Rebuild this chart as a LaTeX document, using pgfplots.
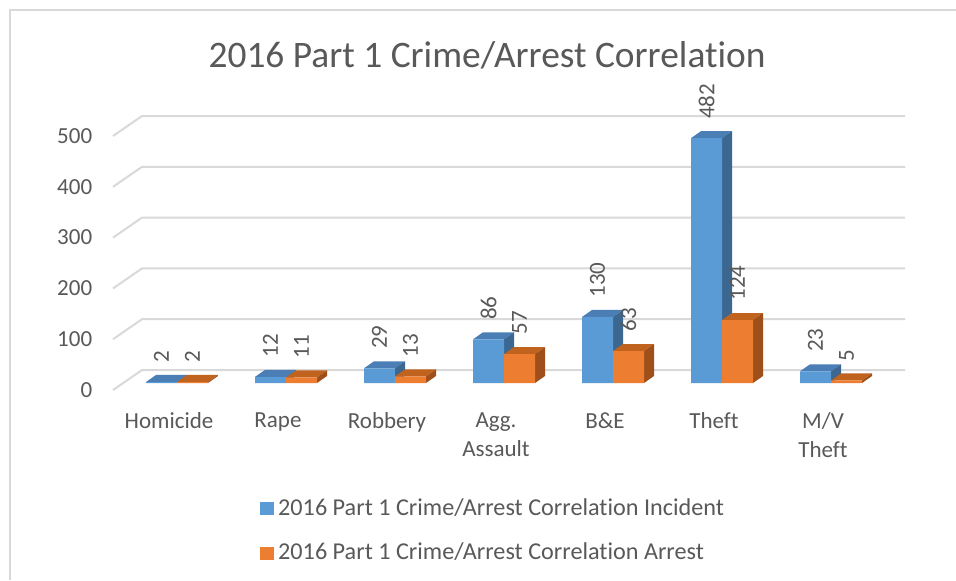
\documentclass[border=0pt]{standalone}
\usepackage{fontspec}
\setmainfont{Carlito}[Ligatures={NoCommon}]
\usepackage{pgfplots}
\pgfplotsset{compat=1.18}
\definecolor{txt}{HTML}{595959}
\definecolor{gridc}{HTML}{D9D9D9}
\definecolor{bfront}{HTML}{5B9BD5}
\definecolor{btop}{HTML}{4A7EB4}
\definecolor{bside}{HTML}{3B6791}
\definecolor{ofront}{HTML}{ED7D31}
\definecolor{otop}{HTML}{C0631F}
\definecolor{oside}{HTML}{9F4F1A}
\newcommand\lblfont{\fontsize{11.5}{14.5}\selectfont}
\newcommand\legfont{\fontsize{12.1}{14.5}\selectfont}
\def\bw{0.2844}
\def\ddx{0.0917}
\def\ddy{13.8}
\begin{document}
\begin{tikzpicture}
\useasboundingbox[fill=white] (0,0) rectangle (478pt,-290pt);
\draw[gridc, line width=0.6pt] (5pt,-290pt) -- (5pt,-5pt) -- (478pt,-5pt);
\node[anchor=base, text=txt, font=\fontsize{18.7}{22}\selectfont, inner sep=0pt] at (243.5pt,-33.5pt) {2016 Part 1 Crime/Arrest Correlation};
\begin{axis}[
  at={(55.8pt,-191.5pt)}, anchor=south west,
  x=54.5pt, y=0.254pt,
  xmin=-0.6, xmax=6.7, ymin=0, ymax=520,
  clip=false,
  axis line style={draw=none},
  major tick length=0pt,
  ytick={0,100,...,500},
  xtick={0,...,6},
  xticklabels={Homicide,Rape,Robbery,{Agg.\\Assault},B\&E,Theft,{M/V\\Theft}},
  tick label style={font=\lblfont, text=txt},
  /pgf/number format/assume math mode=true,
  yticklabel style={anchor=east, inner sep=0pt, xshift=-9.5pt, yshift=-3.5pt},
  xticklabel style={anchor=north, inner sep=0pt, align=center, xshift=-4pt, yshift=-14.5pt},
  legend style={at={(axis description cs:0.1865,-0.42)}, anchor=north west, draw=none, fill=none,
    inner sep=0pt, font=\legfont, text=txt, row sep=8.5pt, cells={anchor=west}},
]
% back-wall gridlines
\foreach \g in {0,100,200,300,400,500} {
  \pgfmathsetmacro\ga{\g-13.8}
  \pgfmathsetmacro\gb{\g+25.6}
  \edef\temp{\noexpand\addplot[forget plot, gridc, line width=1pt] coordinates {(-0.587,\ga) (-0.321,\gb) (6.679,\gb)};}
  \temp
}
% incident 3D faces
\foreach \i/\v in {0/2,1/12,2/29,3/86,4/130,5/482,6/23} {
  \pgfmathsetmacro\xa{\i-\bw}
  \pgfmathsetmacro\xb{\i}
  \pgfmathsetmacro\xc{\i+\ddx}
  \pgfmathsetmacro\xd{\xa+\ddx}
  \pgfmathsetmacro\vt{\v+\ddy}
  \edef\temp{\noexpand\addplot[forget plot, draw=none, fill=btop] coordinates {(\xa,\v) (\xb,\v) (\xc,\vt) (\xd,\vt)} -- cycle;
  \noexpand\addplot[forget plot, draw=none, fill=bside] coordinates {(\xb,0) (\xb,\v) (\xc,\vt) (\xc,\ddy)} -- cycle;}
  \temp
}
\addplot[ybar, forget plot, bar width=\bw, bar shift=-0.1422, fill=bfront, draw=none,
  nodes near coords, every node near coord/.append style={font=\lblfont, text=txt, inner sep=0pt, xshift=-7.75pt, yshift=9.5pt, rotate=90, anchor=west}]
  coordinates {(0,2) (1,12) (2,29) (3,86) (4,130) (5,482) (6,23)};
% arrest 3D faces
\foreach \i/\v in {0/2,1/11,2/13,3/57,4/63,5/124,6/5} {
  \pgfmathsetmacro\xa{\i}
  \pgfmathsetmacro\xb{\i+\bw}
  \pgfmathsetmacro\xc{\xb+\ddx}
  \pgfmathsetmacro\xd{\xa+\ddx}
  \pgfmathsetmacro\vt{\v+\ddy}
  \edef\temp{\noexpand\addplot[forget plot, draw=none, fill=otop] coordinates {(\xa,\v) (\xb,\v) (\xc,\vt) (\xd,\vt)} -- cycle;
  \noexpand\addplot[forget plot, draw=none, fill=oside] coordinates {(\xb,0) (\xb,\v) (\xc,\vt) (\xc,\ddy)} -- cycle;}
  \temp
}
\addplot[ybar, forget plot, bar width=\bw, bar shift=0.1422, fill=ofront, draw=none,
  nodes near coords, every node near coord/.append style={font=\lblfont, text=txt, inner sep=0pt, xshift=7.75pt, yshift=9.5pt, rotate=90, anchor=west}]
  coordinates {(0,2) (1,11) (2,13) (3,57) (4,63) (5,124) (6,5)};
\addlegendimage{legend image code/.code={\fill[bfront] (0pt,-3pt) rectangle (6.5pt,3pt);}}
\addlegendentry{2016 Part 1 Crime/Arrest Correlation Incident}
\addlegendimage{legend image code/.code={\fill[ofront] (0pt,-3pt) rectangle (6.5pt,3pt);}}
\addlegendentry{2016 Part 1 Crime/Arrest Correlation Arrest}
\end{axis}
\end{tikzpicture}
\end{document}
